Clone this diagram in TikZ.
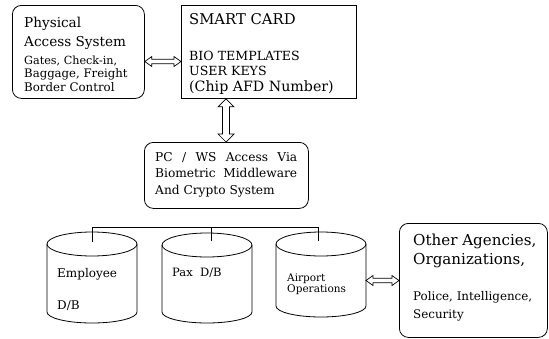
\documentclass[tikz,border=0pt]{standalone}
\usepackage{fontspec}
\setmainfont{DejaVu Serif}
\usetikzlibrary{calc}
\tikzset{
  ln/.style={draw=black, line width=0.8pt},
  rbox/.style={ln, rounded corners=9pt, anchor=north west, inner sep=0pt},
  sbox/.style={ln, anchor=north west, inner sep=0pt},
  txt/.style={anchor=base west, inner sep=0pt},
  arrline/.style={ln, line width=0.7pt, fill=white, line join=miter},
}
\newcommand\fs[1]{\fontsize{#1}{#1}\selectfont}
\newcommand\harrpath[2]{%
  \draw[arrline] (#1) -- ($(#1)+(7,-5)$) -- ($(#1)+(7,-2.2)$) -- ($(#2)+(-7,-2.2)$)
   -- ($(#2)+(-7,-5)$) -- (#2) -- ($(#2)+(-7,5)$) -- ($(#2)+(-7,2.2)$)
   -- ($(#1)+(7,2.2)$) -- ($(#1)+(7,5)$) -- cycle;}
\newcommand\varrpath[2]{%
  \draw[arrline] (#1) -- ($(#1)+(-8,8)$) -- ($(#1)+(-3.5,8)$) -- ($(#2)+(-3.5,-8)$)
   -- ($(#2)+(-8,-8)$) -- (#2) -- ($(#2)+(8,-8)$) -- ($(#2)+(3.5,-8)$)
   -- ($(#1)+(3.5,8)$) -- ($(#1)+(8,8)$) -- cycle;}
\newcommand\cylpath[3]{% cx, top-centre y, side end y
  \draw[ln] (#1,#2) ellipse [x radius=45pt, y radius=12pt];
  \draw[ln] ($(#1,#2)+(-45,0)$) -- ($(#1,#3)+(-45,0)$)
     arc[start angle=180, end angle=360, x radius=45pt, y radius=11pt]
     -- ($(#1,#2)+(45,0)$);}
\begin{document}
\begin{tikzpicture}[x=1pt,y=-1pt]
\useasboundingbox (0,0) rectangle (549,338);
\fill[white] (0,0) rectangle (549,338);

% Physical access system
\node[rbox, minimum width=132pt, minimum height=93pt] (phys) at (12,5) {};
\node[txt] (p1) at (24,27) {\fs{13.6}Physical};
\node[txt] (p2) at (24,46) {\fs{13.6}Access System};
\node[txt] (p3) at (24,64) {\fs{11.2}Gates, Check-in,};
\node[txt] (p4) at (24,77.5) {\fs{11.7}Baggage, Freight};
\node[txt] (p5) at (24,91) {\fs{11.8}Border Control};

% Smart card
\node[sbox, minimum width=175pt, minimum height=93pt] (card) at (181,5) {};
\node[txt] (c1) at (189,24) {\fs{14.8}SMART CARD};
\node[txt] (c2) at (189,60) {\fs{12.6}BIO TEMPLATES};
\node[txt] (c3) at (189,75) {\fs{12.6}USER KEYS};
\node[txt] (c4) at (189,91) {\fs{14.2}(Chip AFD Number)};

% PC / WS
\node[rbox, minimum width=164pt, minimum height=66pt] (pc) at (144,142) {};
\node[txt] (w1) at (155,161) {\fs{12.2}\makebox[142pt][s]{PC / WS Access Via}};
\node[txt] (w2) at (155,177.5) {\fs{12.2}\makebox[142pt][s]{Biometric Middleware}};
\node[txt] (w3) at (155,194) {\fs{12.2}And Crypto System};

% Other agencies
\node[rbox, minimum width=148pt, minimum height=114pt] (oth) at (399,223) {};
\node[txt] (o1) at (413,245) {\fs{15.1}Other Agencies,};
\node[txt] (o2) at (413,264) {\fs{15.1}Organizations,};
\node[txt] (o3) at (413,300) {\fs{11.9}Police, Intelligence,};
\node[txt] (o4) at (413,318) {\fs{11.9}Security};

% Cylinders
\cylpath{92}{244}{312}
\cylpath{207}{245}{312}
\cylpath{321}{244}{306}
\node[txt] (e1) at (57,277) {\fs{12}Employee};
\node[txt] (e2) at (57,309) {\fs{12}D/B};
\node[txt] (x1) at (172,276) {\fs{11.5}Pax\ \ D/B};
\node[txt] (a1) at (287,281) {\fs{10.5}Airport};
\node[txt] (a2) at (287,292) {\fs{10.5}Operations};

\coordinate (emp) at (92,242);
\coordinate (pax) at (211,241);
\coordinate (air) at (318,241);
\coordinate (bus) at (0,227);
\coordinate (airR) at (366,280.5);

% bus
\draw[ln] (emp) |- (air |- bus) -- (air);
\draw[ln] (pax) -- (pax |- bus);

% double arrows
\coordinate (y61) at (0,61.5);
\harrpath{phys.east |- y61}{card.west |- y61}
\varrpath{card.south -| 226,0}{pc.north -| 226,0}
\harrpath{airR}{oth.west |- airR}
\end{tikzpicture}
\end{document}
